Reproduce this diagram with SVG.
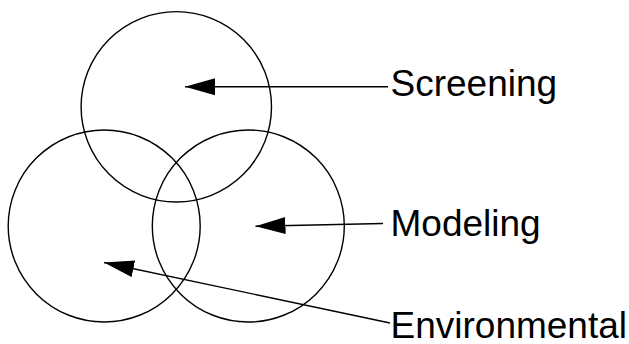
<svg xmlns="http://www.w3.org/2000/svg" width="629" height="344" viewBox="0 0 629 344">
  <style>
    .ring { fill: none; stroke: #000; stroke-width: 1.4; }
    .lead { fill: none; stroke: #000; stroke-width: 1.4; marker-end: url(#head); }
    .label { font-family: "Liberation Sans", Arial, Helvetica, sans-serif; font-size: 37px; fill: #000; }
  </style>
  <defs>
    <marker id="head" markerUnits="userSpaceOnUse" markerWidth="31" markerHeight="18" viewBox="0 -9 31 18" refX="30" refY="0" orient="auto">
      <path d="M0,-8.5 L30,0 L0,8.5 Z" fill="#000"/>
    </marker>
  </defs>

  <g id="screening">
    <circle class="ring" cx="176.3" cy="106.8" r="95.2"/>
    <text class="label" x="390.5" y="96">Screening</text>
  </g>
  <g id="environmental">
    <circle class="ring" cx="104.2" cy="226" r="96"/>
    <text class="label" x="390.5" y="337.5">Environmental</text>
  </g>
  <g id="modeling">
    <circle class="ring" cx="248.3" cy="226" r="96"/>
    <text class="label" x="390.5" y="235.5">Modeling</text>
  </g>

  <g id="connectors">
    <line class="lead" x1="388" y1="86.7" x2="185" y2="86.7"/>
    <line class="lead" x1="383" y1="223.5" x2="255.5" y2="226.2"/>
    <line class="lead" x1="390" y1="323" x2="104" y2="262.5"/>
  </g>
</svg>
